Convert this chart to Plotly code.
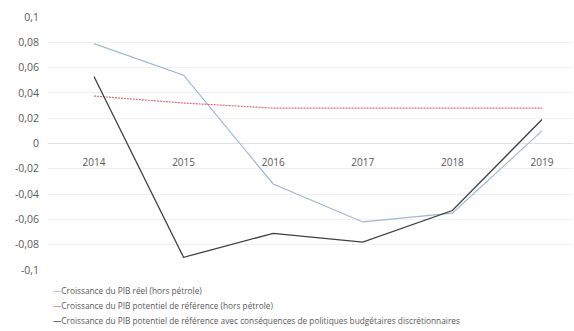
import plotly.graph_objects as go

# Annual growth series, 2014-2019
years = ["2014", "2015", "2016", "2017", "2018", "2019"]
pib_reel = [0.079, 0.054, -0.032, -0.062, -0.055, 0.010]
pib_potentiel = [0.0375, 0.032, 0.028, 0.028, 0.028, 0.028]
pib_potentiel_budget = [0.053, -0.090, -0.071, -0.078, -0.053, 0.019]

y_ticks = [-0.1, -0.08, -0.06, -0.04, -0.02, 0, 0.02, 0.04, 0.06, 0.08, 0.1]
y_tick_text = ["-0,1", "-0,08", "-0,06", "-0,04", "-0,02", "0",
               "0,02", "0,04", "0,06", "0,08", "0,1"]

names = [
    "Croissance du PIB réel (hors pétrole)",
    "Croissance du PIB potentiel de référence (hors pétrole)",
    "Croissance du PIB potentiel de référence avec conséquences de politiques budgétaires discrétionnaires",
]
colors = ["#9DB8D4", "#E06C74", "#404040"]
dashes = ["solid", "2px,1px", "solid"]
widths = [1.2, 1.2, 1.3]
series = [pib_reel, pib_potentiel, pib_potentiel_budget]

fig = go.Figure()
for name, vals, col, dash, w in zip(names, series, colors, dashes, widths):
    fig.add_trace(go.Scatter(x=years, y=vals, mode="lines", name=name,
                             showlegend=False,
                             line=dict(color=col, width=w, dash=dash)))

# Compact legend below the plot: a short coloured dash followed by the label
for i, (name, col) in enumerate(zip(names, colors)):
    fig.add_annotation(
        xref="paper", yref="paper", x=0.006, y=-0.083 - i * 0.0575,
        xanchor="left", yanchor="middle", showarrow=False,
        text=f'<span style="color:{col}">—</span>{name}',
        font=dict(size=8.3, color="#595959"),
    )

fig.update_layout(
    width=574, height=331,
    margin=dict(l=48, r=1, t=17, b=61, autoexpand=False),
    paper_bgcolor="white", plot_bgcolor="white",
    font=dict(family="Open Sans, DejaVu Sans, sans-serif", color="#595959", size=10),
    xaxis=dict(type="category", range=[-0.513, 5.346], anchor="free", position=0.5,
               showgrid=False, showline=False, ticks="", zeroline=False,
               tickfont=dict(size=10, color="#595959"), ticklabelstandoff=11),
    yaxis=dict(range=[-0.1, 0.1], tickvals=y_ticks, ticktext=y_tick_text,
               showgrid=True, gridcolor="#F0F0F0", gridwidth=1,
               zeroline=True, zerolinecolor="#E0E0E0", zerolinewidth=1,
               showline=False, ticks="", ticklabelstandoff=8,
               tickfont=dict(size=10.5, color="#595959")),
)

fig.write_html("out.html")
